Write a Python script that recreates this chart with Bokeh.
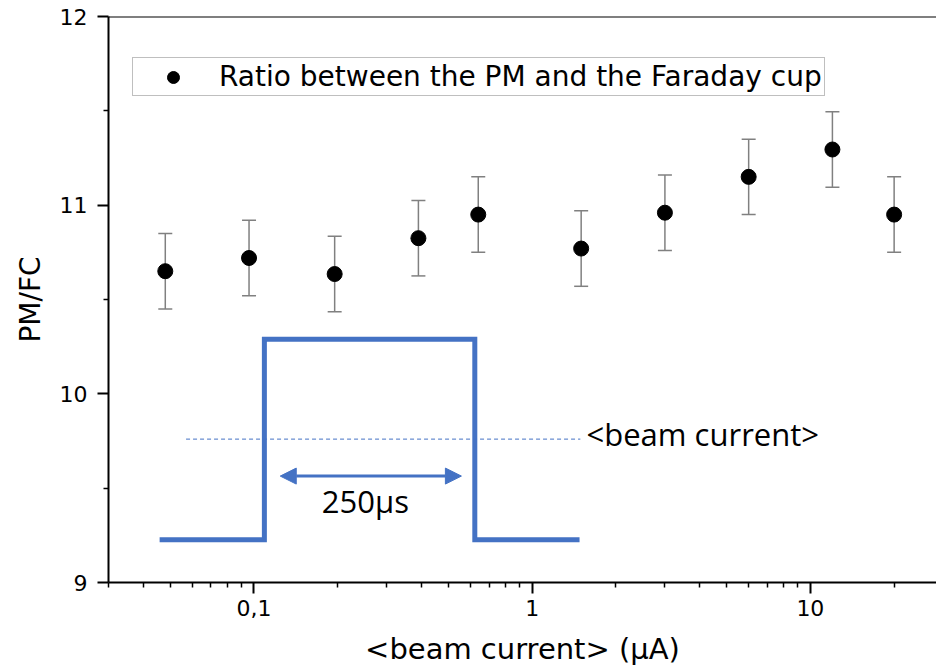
from bokeh.plotting import figure
from bokeh.models import (Whisker, TeeHead, FixedTicker, CustomJSTickFormatter, Span,
                          Arrow, NormalHead, Label, ColumnDataSource, Range1d)
from bokeh.embed import file_html
from bokeh.resources import INLINE

# ---- data ----
current_uA = [0.048, 0.096, 0.195, 0.39, 0.64, 1.5, 3.0, 6.0, 12.0, 20.0]
pm_fc = [10.65, 10.72, 10.635, 10.825, 10.95, 10.77, 10.96, 11.15, 11.295, 10.95]
pm_fc_err = [0.2, 0.2, 0.2, 0.2, 0.2, 0.2, 0.2, 0.2, 0.2, 0.2]

x_major_ticks = [0.1, 1, 10]
x_minor_ticks = [0.03, 0.04, 0.05, 0.06, 0.07, 0.08, 0.09,
                 0.2, 0.3, 0.4, 0.5, 0.6, 0.7, 0.8, 0.9,
                 2, 3, 4, 5, 6, 7, 8, 9, 20]
y_major_ticks = [9, 10, 11, 12]
y_minor_ticks = [9.5, 10.5, 11.5]

legend_text = "Ratio between the PM and the Faraday cup"

# beam pulse sketch (in chart coordinates)
pulse_x = [0.0458, 0.109, 0.109, 0.622, 0.622, 1.48]
pulse_y = [9.227, 9.227, 10.289, 10.289, 9.227, 9.227]
mean_x = [0.057, 1.49]
mean_y = [9.76, 9.76]
arrow_x = [0.1243, 0.5567]
arrow_y = 9.564
pulse_label = "250µs"
pulse_label_pos = (0.2514, 9.431)
mean_label = "<beam current>"
mean_label_pos = (1.568, 9.787)

BLUE = "#4472C4"

src = ColumnDataSource(dict(
    x=current_uA,
    y=pm_fc,
    upper=[v + e for v, e in zip(pm_fc, pm_fc_err)],
    lower=[v - e for v, e in zip(pm_fc, pm_fc_err)],
))

p = figure(width=936, height=670, x_axis_type="log",
           x_range=Range1d(0.03, 28.4), y_range=Range1d(9, 12),
           output_backend="svg", toolbar_location=None,
           min_border_left=108, min_border_right=0, min_border_top=16, min_border_bottom=88)
p.outline_line_color = None
p.grid.visible = False
p.background_fill_color = "white"
p.border_fill_color = "white"

p.add_layout(Span(location=12, dimension="width", line_color="black", line_width=2))

for ax in (p.xaxis[0], p.yaxis[0]):
    ax.axis_line_width = 2
    ax.axis_line_color = "black"
    ax.major_tick_line_width = 2
    ax.major_tick_out = 11
    ax.major_tick_in = 0
    ax.minor_tick_out = 5
    ax.minor_tick_in = 0
    ax.minor_tick_line_width = 1.5
    ax.major_label_text_font = "DejaVu Sans"
    ax.major_label_text_font_size = "22px"
    ax.major_label_text_color = "black"
    ax.axis_label_text_font = "DejaVu Sans"
    ax.axis_label_text_font_style = "normal"
    ax.axis_label_text_color = "black"

p.xaxis.ticker = FixedTicker(ticks=x_major_ticks, minor_ticks=x_minor_ticks)
p.xaxis.formatter = CustomJSTickFormatter(
    code="return tick < 1 ? String(tick).replace('.', ',') : String(tick);")
p.xaxis.axis_label = "<beam current> (µA)"
p.xaxis.axis_label_text_font_size = "29px"
p.xaxis.major_label_standoff = 6
p.xaxis.axis_label_standoff = 13

p.yaxis.ticker = FixedTicker(ticks=y_major_ticks, minor_ticks=y_minor_ticks)
p.yaxis.axis_label = "PM/FC"
p.yaxis.axis_label_text_font_size = "28px"
p.yaxis.major_label_standoff = 10
p.yaxis.axis_label_standoff = 10

err = Whisker(base="x", upper="upper", lower="lower", source=src,
              line_color="#808080", line_width=1.5,
              upper_head=TeeHead(size=14, line_color="#808080", line_width=1.5),
              lower_head=TeeHead(size=14, line_color="#808080", line_width=1.5))
p.add_layout(err)

p.scatter("x", "y", source=src, size=15, color="black", legend_label=legend_text)

lg = p.legend[0]
lg.location = (24, 486)
lg.margin = 0
lg.padding = 2
lg.spacing = 0
lg.glyph_width = 76
lg.glyph_height = 30
lg.label_standoff = 8
lg.label_text_font = "DejaVu Sans"
lg.label_text_font_size = "28px"
lg.label_text_color = "black"
lg.border_line_color = "#808080"
lg.border_line_width = 1
lg.background_fill_color = "white"
lg.background_fill_alpha = 1.0

# beam pulse sketch
p.line(pulse_x, pulse_y, line_color=BLUE, line_width=5, line_join="miter")
p.line(mean_x, mean_y, line_color=BLUE, line_width=1, line_dash="4 3")
p.add_layout(Arrow(x_start=arrow_x[0], y_start=arrow_y, x_end=arrow_x[1], y_end=arrow_y,
                   line_color=BLUE, line_width=3,
                   start=NormalHead(size=16, fill_color=BLUE, line_color=BLUE),
                   end=NormalHead(size=16, fill_color=BLUE, line_color=BLUE)))
p.add_layout(Label(x=pulse_label_pos[0], y=pulse_label_pos[1], text=pulse_label,
                   text_align="center", text_baseline="middle",
                   text_font="Open Sans", text_font_size="31px", text_color="black"))
p.add_layout(Label(x=mean_label_pos[0], y=mean_label_pos[1], text=mean_label,
                   text_align="left", text_baseline="middle",
                   text_font="Open Sans", text_font_size="31px", text_color="black"))

open("out.html", "w").write(file_html(p, INLINE))
